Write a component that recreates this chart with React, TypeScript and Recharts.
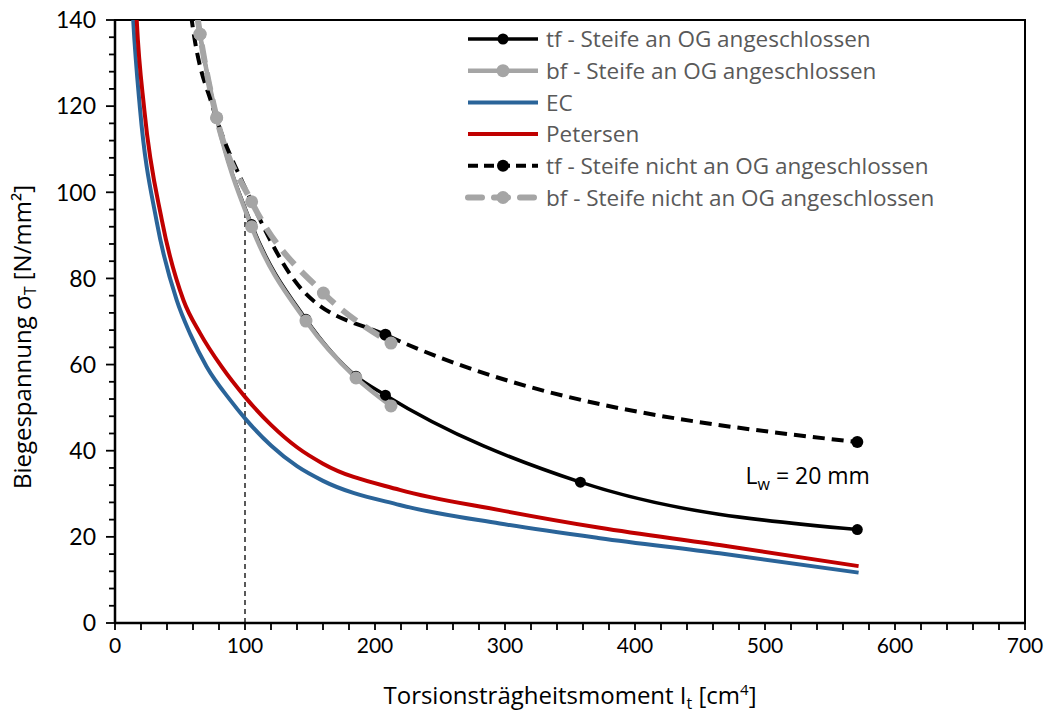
import React from 'react';
import {
  LineChart, Line, XAxis, YAxis, ReferenceArea, ReferenceDot, Legend, Label,
} from 'recharts';

// tf - Steife an OG angeschlossen
const tfAnX = [55, 65.4, 78.2, 105.1, 146.9, 185.4, 208, 358, 571];
const tfAnY = [160, 136.7, 117.3, 92.5, 70.5, 57.3, 52.9, 32.7, 21.7];

// bf - Steife an OG angeschlossen
const bfAnX = [55, 65.4, 78.2, 105.1, 146.9, 185.4, 212.3];
const bfAnY = [160, 136.7, 117.3, 92.0, 70.1, 56.9, 50.4];

// EC
const ecX = [12, 14, 19.2, 32, 47.4, 58, 70.5, 88.5, 100, 120, 140, 160, 219, 296, 373, 465, 572];
const ecY = [152, 140, 119.5, 93.3, 75, 67, 59.5, 51.8, 47.5, 41.2, 36.4, 33, 27.4, 23.1, 19.7, 16.2, 11.7];

// Petersen
const petX = [14.5, 16.7, 22.6, 36, 52.6, 65.4, 82, 100, 120, 140, 160, 219, 296, 373, 465, 572];
const petY = [155, 140, 119, 93.6, 75, 67.3, 59.5, 52.5, 46, 40.8, 37, 30.9, 26.2, 22.1, 18.1, 13.2];

// tf - Steife nicht an OG angeschlossen (nur die sichtbaren Marker)
const tfNiX = [50, 61, 75, 102.5, 145, 208, 571];
const tfNiY = [163, 136, 120, 99.5, 77, 66.9, 42.0];
const tfNiMarks = [208, 571];

// bf - Steife nicht an OG angeschlossen
const bfNiX = [55, 65.4, 78.2, 105.1, 160.3, 212.3];
const bfNiY = [160, 136.7, 117.3, 97.8, 76.6, 65.0];

// Hilfslinie bei I_t = 100
const refX = [100, 100];
const refY = [0, 96];

const xMajor = [0, 100, 200, 300, 400, 500, 600, 700];
const yMajor = [0, 20, 40, 60, 80, 100, 120, 140];
const xTicks = Array.from({ length: 36 }, (_, i) => i * 20);
const yTicks = Array.from({ length: 36 }, (_, i) => i * 4);

const noteX = 485;
const noteY = 32.3;

const zip = (xs: number[], ys: number[]) => xs.map((x, i) => ({ x, y: ys[i] }));

const FONT = '"Open Sans", sans-serif';
const TICKFONT = 'Lato, "Open Sans", sans-serif';
const GREY = '#A5A5A5';

const series = [
  { name: 'tf - Steife an OG angeschlossen', data: zip(tfAnX, tfAnY), color: '#000', width: 3.5, dash: undefined, r: 5.5, marks: tfAnX },
  { name: 'bf - Steife an OG angeschlossen', data: zip(bfAnX, bfAnY), color: GREY, width: 4.5, dash: undefined, r: 6.5, marks: bfAnX },
  { name: 'EC', data: zip(ecX, ecY), color: '#2A6499', width: 4, dash: undefined, r: 0, marks: [] },
  { name: 'Petersen', data: zip(petX, petY), color: '#C00000', width: 4, dash: undefined, r: 0, marks: [] },
  { name: 'tf - Steife nicht an OG angeschlossen', data: zip(tfNiX, tfNiY), color: '#000', width: 4, dash: '12 7', r: 6, marks: tfNiMarks },
  { name: 'bf - Steife nicht an OG angeschlossen', data: zip(bfNiX, bfNiY), color: GREY, width: 6, dash: '18 10', r: 6.5, marks: bfNiX },
];

const XTick = (props: any) => {
  const { x, y, payload } = props;
  const major = xMajor.includes(payload.value);
  return (
    <g>
      <line x1={x} x2={x} y1={y} y2={y + 7} stroke="#000" strokeWidth={1.8} />
      {major && (
        <text x={x} y={y + 30} textAnchor="middle" fontSize={21} fontFamily={TICKFONT} fill="#000">
          {payload.value}
        </text>
      )}
    </g>
  );
};

const YTick = (props: any) => {
  const { x, y, payload } = props;
  const major = yMajor.includes(payload.value);
  return (
    <g>
      <line x1={x - (major ? 9 : 6)} x2={x} y1={y} y2={y} stroke="#000" strokeWidth={1.8} />
      {major && (
        <text x={x - 19} y={y} dy="0.36em" textAnchor="end" fontSize={23} fontFamily={TICKFONT} fill="#000">
          {payload.value}
        </text>
      )}
    </g>
  );
};

const LegendBox = () => (
  <svg width={540} height={200}>
    {series.map((s, i) => {
      const cy = 17 + i * 31.7;
      const greyDash = s.color === GREY && s.dash;
      return (
        <g key={s.name}>
          <line x1={8} x2={78} y1={cy} y2={cy} stroke={s.color} strokeWidth={s.width}
            strokeDasharray={s.dash ? (greyDash ? '14 12' : '10 6') : undefined}
            strokeLinecap={greyDash ? 'round' : 'butt'} />
          {s.r > 0 && <circle cx={43} cy={cy} r={s.r} fill={s.color} />}
          <text x={86} y={cy} dy="0.36em" fontSize={22.5} fontFamily={FONT} fill="#595959">{s.name}</text>
        </g>
      );
    })}
  </svg>
);

const markerDot = (s: any) => (p: any) => {
  const key = `${s.name}-${p.index}`;
  if (!s.marks.includes(p.payload.x)) return <g key={key} />;
  return <circle key={key} cx={p.cx} cy={p.cy} r={s.r} fill={s.color} />;
};

export default function App() {
  return (
    <div style={{ margin: '-8px 0 0 -8px' }}>
      <LineChart width={1055} height={715} margin={{ top: 20, right: 30, left: 35, bottom: 32 }}>
        <XAxis
          type="number" dataKey="x" domain={[0, 700]} ticks={xTicks} interval={0}
          tick={<XTick />} tickLine={false} tickSize={0} tickMargin={0} height={60}
          axisLine={{ stroke: '#000', strokeWidth: 2.5 }} allowDataOverflow
        >
          <Label content={() => (
            <text x={570} y={704} textAnchor="middle" fontSize={24} fontFamily={FONT} fill="#000">
              Torsionsträgheitsmoment I<tspan dy={5} fontSize={16}>t</tspan>
              <tspan dy={-5}> [cm</tspan><tspan dy={-9} fontSize={15}>4</tspan><tspan dy={9}>]</tspan>
            </text>
          )} />
        </XAxis>
        <YAxis
          type="number" domain={[0, 140]} ticks={yTicks} interval={0}
          tick={<YTick />} tickLine={false} tickSize={0} tickMargin={0} width={80}
          axisLine={{ stroke: '#000', strokeWidth: 2.5 }} allowDataOverflow
        >
          <Label content={() => (
            <text x={22} y={337} transform="rotate(-90 22 337)" textAnchor="middle" dy="0.36em"
              fontSize={24} fontFamily={FONT} fill="#000">
              Biegespannung σ<tspan dy={5} fontSize={16}>T</tspan><tspan dy={-5}> [N/mm²]</tspan>
            </text>
          )} />
        </YAxis>
        <ReferenceArea x1={0} x2={700} y1={0} y2={140} fill="none" stroke="#000" strokeWidth={2} />
        <Line data={zip(refX, refY)} dataKey="y" type="linear" stroke="#000" strokeWidth={1.3}
          strokeDasharray="5 4" dot={false} activeDot={false} isAnimationActive={false} legendType="none" />
        {series.map((s) => (
          <Line
            key={s.name} name={s.name} data={s.data} dataKey="y" type="monotone"
            stroke={s.color} strokeWidth={s.width} strokeDasharray={s.dash}
            dot={s.r > 0 ? markerDot(s) : false}
            activeDot={false} isAnimationActive={false}
          />
        ))}
        <ReferenceDot x={noteX} y={noteY} r={0} fill="none" stroke="none">
          <Label content={(p: any) => (
            <text x={p.viewBox.x} y={p.viewBox.y} fontSize={23} fontFamily={FONT} fill="#000">
              L<tspan dy={6} fontSize={16}>w</tspan><tspan dy={-6}> = 20 mm</tspan>
            </text>
          )} />
        </ReferenceDot>
        <Legend layout="horizontal" verticalAlign="middle" align="center"
          wrapperStyle={{ left: 460, top: 22, width: 540, height: 200 }} content={<LegendBox />} />
      </LineChart>
    </div>
  );
}
